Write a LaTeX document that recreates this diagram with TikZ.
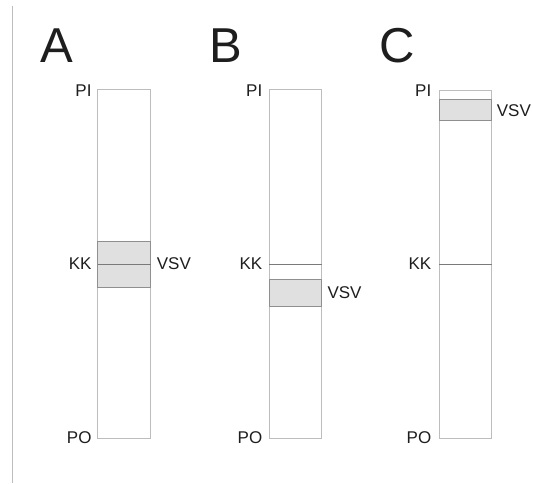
\documentclass[tikz,border=0pt]{standalone}
\usepackage{fontspec}
\setmainfont{Liberation Sans}
\begin{document}
\begin{tikzpicture}[x=1pt,y=-1pt,
  column/.style={draw=colborder,line width=0.9pt,fill=white},
  vsvband/.style={draw=bandborder,line width=0.9pt,fill=bandfill},
  kkline/.style={draw=kkgray,line width=0.7pt},
  lab/.style={inner sep=0pt,text=labtext,font=\fontsize{17pt}{17pt}\selectfont},
  letter/.style={inner sep=0pt,text=labtext,font=\fontsize{49pt}{49pt}\selectfont,anchor=base west}]
\definecolor{colborder}{HTML}{BDBDBD}
\definecolor{bandborder}{HTML}{8F8F8F}
\definecolor{bandfill}{HTML}{E0E0E0}
\definecolor{kkgray}{HTML}{7A7A7A}
\definecolor{labtext}{HTML}{1E1E1E}
\useasboundingbox (0,0) rectangle (533,483);
\fill[white] (0,0) rectangle (533,483);
% left margin rule
\draw[colborder,line width=1pt] (12.5,6) -- (12.5,483);

% ---- column A ----
\draw[column] (97.7,89.5) rectangle (150.7,438.5);
\draw[vsvband] (97.7,241.7) rectangle (150.7,287.7);
\draw[kkline] (97.7,264.3) -- (150.7,264.3);
\node[letter] (la) at (40.5,62.7) {A};
\node[lab,anchor=east] (pia) at (91.7,90.5) {PI};
\node[lab,anchor=east] (kka) at (91.7,264) {KK};
\node[lab,anchor=east] (poa) at (91.7,437.5) {PO};
\node[lab,anchor=west] (vsva) at (156.7,263.5) {VSV};

% ---- column B ----
\draw[column] (269.3,89.5) rectangle (321.7,438.5);
\draw[kkline] (269.3,264.3) -- (321.7,264.3);
\draw[vsvband] (269.3,279.3) rectangle (321.7,306.7);
\node[letter] (lb) at (209,62.7) {B};
\node[lab,anchor=east] (pib) at (262.5,90.5) {PI};
\node[lab,anchor=east] (kkb) at (262.5,264) {KK};
\node[lab,anchor=east] (pob) at (262.5,437.5) {PO};
\node[lab,anchor=west] (vsvb) at (327.3,292.5) {VSV};

% ---- column C ----
\draw[column] (439,90.3) rectangle (491.7,438.5);
\draw[vsvband] (439,99.3) rectangle (491.7,120.3);
\draw[kkline] (439,264.3) -- (491.7,264.3);
\node[letter] (lc) at (379,62.7) {C};
\node[lab,anchor=east] (pic) at (431.5,90.5) {PI};
\node[lab,anchor=east] (kkc) at (431.5,264) {KK};
\node[lab,anchor=east] (poc) at (431.5,437.5) {PO};
\node[lab,anchor=west] (vsvc) at (496.7,111) {VSV};
\end{tikzpicture}
\end{document}
